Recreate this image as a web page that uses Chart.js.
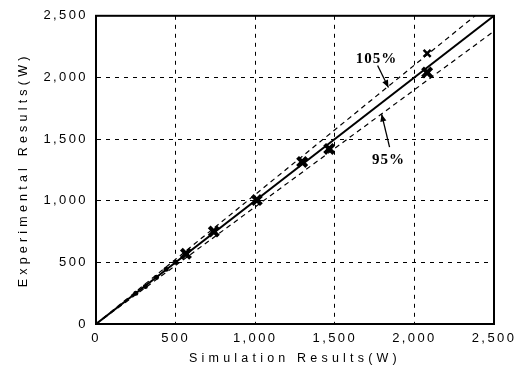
<!DOCTYPE html>
<html><head><meta charset="utf-8">
<script src="https://cdn.jsdelivr.net/npm/chart.js@4/dist/chart.umd.min.js"></script>
<style>html,body{margin:0;padding:0;background:#fff}#wrap{width:524px;height:370px}</style>
</head><body><div id="wrap"><canvas id="c" width="524" height="370"></canvas></div>
<script>
// Data
const simX   = [565, 740, 1010, 1295, 1465, 2080, 2080];
const expY   = [570, 750, 1005, 1315, 1420, 2040, 2195];
const lowSimX = [250, 310, 380, 440, 500];
const lowExpY = [250, 305, 380, 445, 500];
const refFactors = [1.00, 1.05, 0.95];
const axisTicks = [0, 500, 1000, 1500, 2000, 2500];
const xTitle = 'Simulation Results(W)';
const yTitle = 'Experimental Results(W)';
// annotations: label, text anchor (data units), arrow start, arrow end
const annLabels = ['105%', '95%'];
const annText   = [[1762, 2145], [1837, 1331]];
const annFrom   = [[1769, 2097], [1844, 1435]];
const annTo     = [[1837, 1919], [1794, 1702]];

const pts = simX.map((x, i) => ({x, y: expY[i]}));
const lowPts = lowSimX.map((x, i) => ({x, y: lowExpY[i]}));
const maxV = axisTicks[axisTicks.length - 1];
const refLines = refFactors.map(f => [{x: 0, y: 0}, {x: maxV, y: maxV * f}]);

const frame = {
  id: 'frame',
  afterLayout(chart) {
    Object.values(chart.scales).forEach(s => {
      if (s._lsPatched) return;
      const orig = s.drawTitle;
      s.drawTitle = function () {
        const ctx = this.ctx; ctx.save(); ctx.letterSpacing = '4.2px';
        orig.apply(this, arguments); ctx.restore();
      };
      s._lsPatched = true;
    });
  },
  beforeDraw(chart) { chart.ctx.letterSpacing = '2.4px'; },
  afterDraw(chart) {
    const {ctx, chartArea: a, scales: {x, y}} = chart;
    ctx.save();
    ctx.letterSpacing = '0px';
    ctx.strokeStyle = '#000'; ctx.lineWidth = 2;
    ctx.strokeRect(a.left, a.top, a.right - a.left, a.bottom - a.top);
    ctx.fillStyle = '#000';
    ctx.font = 'bold 15px "Liberation Serif"';
    ctx.letterSpacing = '1px';
    ctx.textAlign = 'center'; ctx.textBaseline = 'middle';
    annLabels.forEach((t, i) => {
      ctx.fillText(t, x.getPixelForValue(annText[i][0]), y.getPixelForValue(annText[i][1]));
      const x0 = x.getPixelForValue(annFrom[i][0]), y0 = y.getPixelForValue(annFrom[i][1]);
      const x1 = x.getPixelForValue(annTo[i][0]), y1 = y.getPixelForValue(annTo[i][1]);
      ctx.lineWidth = 1.3;
      ctx.beginPath(); ctx.moveTo(x0, y0); ctx.lineTo(x1, y1); ctx.stroke();
      const ang = Math.atan2(y1 - y0, x1 - x0), L = 8, W = 0.4;
      ctx.beginPath();
      ctx.moveTo(x1, y1);
      ctx.lineTo(x1 - L * Math.cos(ang - W), y1 - L * Math.sin(ang - W));
      ctx.lineTo(x1 - L * Math.cos(ang + W), y1 - L * Math.sin(ang + W));
      ctx.closePath(); ctx.fill();
    });
    ctx.restore();
  }
};

new Chart(document.getElementById('c'), {
  type: 'scatter',
  data: {
    datasets: [
      {type: 'line', data: refLines[0], borderColor: '#000', borderWidth: 2, pointRadius: 0, fill: false},
      {type: 'line', data: refLines[1], borderColor: '#000', borderWidth: 1.2, borderDash: [5, 4], pointRadius: 0, fill: false},
      {type: 'line', data: refLines[2], borderColor: '#000', borderWidth: 1.2, borderDash: [5, 4], pointRadius: 0, fill: false},
      {data: pts.slice(0, 6), pointStyle: 'crossRot', pointRadius: 6.5, borderWidth: 4, borderColor: '#000', backgroundColor: '#000'},
      {data: pts.slice(6), pointStyle: 'crossRot', pointRadius: 5, borderWidth: 2.5, borderColor: '#000', backgroundColor: '#000'},
      {data: lowPts, pointStyle: 'circle', pointRadius: 2.5, borderWidth: 0, backgroundColor: '#000'}
    ]
  },
  options: {
    responsive: false, animation: false, locale: 'en-US',
    layout: {padding: {top: 14, right: 30, left: 16, bottom: 4}},
    plugins: {legend: {display: false}, tooltip: {enabled: false}},
    scales: {
      x: {
        type: 'linear', min: 0, max: maxV,
        afterBuildTicks: s => { s.ticks = axisTicks.map(v => ({value: v})); },
        grid: {color: '#000', lineWidth: 1, tickLength: 0, drawTicks: false},
        border: {display: true, color: '#000', width: 2, dash: [4, 5]},
        ticks: {color: '#000', font: {family: 'Liberation Sans', size: 13}, padding: 7, maxRotation: 0},
        title: {display: true, text: xTitle, color: '#000', font: {family: 'Liberation Sans', size: 12.5}, padding: {top: 2, bottom: 0}},
        afterFit: s => { s.height = 42; }
      },
      y: {
        type: 'linear', min: 0, max: maxV,
        afterBuildTicks: s => { s.ticks = axisTicks.map(v => ({value: v})); },
        grid: {color: '#000', lineWidth: 1, drawTicks: false},
        border: {display: true, color: '#000', width: 2, dash: [4, 5]},
        ticks: {color: '#000', font: {family: 'Liberation Sans', size: 13}, padding: 8},
        title: {display: true, text: yTitle, color: '#000', font: {family: 'Liberation Sans', size: 12.5}, padding: {top: 0, bottom: 10}},
        afterFit: s => { s.width = 80; }
      }
    }
  },
  plugins: [frame]
});
</script>
</body></html>
